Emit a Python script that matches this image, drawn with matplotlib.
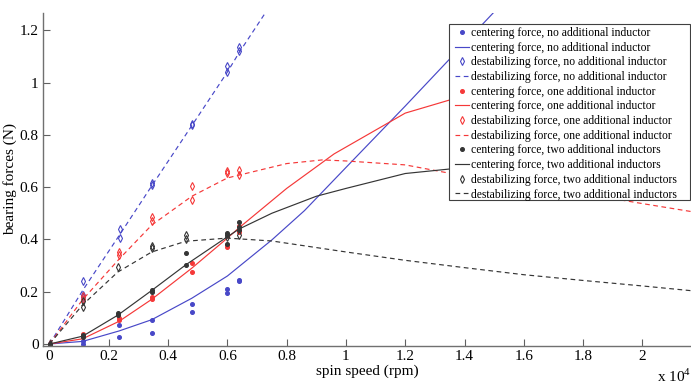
import matplotlib
matplotlib.use("Agg")
import matplotlib.pyplot as plt
from matplotlib.patches import Rectangle

plt.rcParams['font.family'] = ['Liberation Serif', 'DejaVu Serif']
plt.rcParams['mathtext.fontset'] = 'custom'
plt.rcParams['mathtext.rm'] = 'Liberation Serif'

# ---- measured data (spin speed in 1e4 rpm, force in N) ----
# no additional inductor
c0_x = [0, 0.112, 0.112, 0.235, 0.235, 0.345, 0.345, 0.48, 0.48, 0.6, 0.6, 0.64, 0.64]
c0_y = [0, 0.012, 0.0, 0.074, 0.027, 0.092, 0.042, 0.154, 0.122, 0.21, 0.196, 0.245, 0.24]
d0_x = [0, 0.112, 0.112, 0.112, 0.238, 0.238, 0.345, 0.345, 0.48, 0.48, 0.6, 0.6, 0.64, 0.64]
d0_y = [0, 0.24, 0.187, 0.178, 0.438, 0.404, 0.617, 0.607, 0.843, 0.836, 1.062, 1.04, 1.135, 1.12]
# one additional inductor
c1_x = [0, 0.112, 0.112, 0.235, 0.235, 0.345, 0.345, 0.48, 0.48, 0.6, 0.6, 0.64, 0.64, 0.64]
c1_y = [0, 0.04, 0.03, 0.1, 0.093, 0.18, 0.171, 0.31, 0.277, 0.378, 0.37, 0.452, 0.436, 0.427]
d1_x = [0, 0.112, 0.112, 0.235, 0.235, 0.345, 0.345, 0.48, 0.48, 0.6, 0.6, 0.64, 0.64]
d1_y = [0, 0.185, 0.172, 0.353, 0.34, 0.487, 0.47, 0.604, 0.552, 0.662, 0.654, 0.664, 0.648]
# two additional inductors
c2_x = [0, 0.112, 0.112, 0.23, 0.23, 0.345, 0.345, 0.46, 0.46, 0.6, 0.6, 0.6, 0.64, 0.64, 0.64]
c2_y = [0, 0.035, 0.027, 0.117, 0.11, 0.207, 0.199, 0.348, 0.301, 0.425, 0.417, 0.381, 0.466, 0.446, 0.436]
d2_x = [0, 0.112, 0.112, 0.23, 0.345, 0.345, 0.46, 0.46, 0.6, 0.64]
d2_y = [0, 0.165, 0.142, 0.294, 0.376, 0.368, 0.416, 0.402, 0.41, 0.416]

# ---- model curves ----
mc0_x = [0, 0.112, 0.235, 0.345, 0.48, 0.6, 0.75, 0.86, 1.0, 1.2, 1.4, 1.6]
mc0_y = [0, 0.01, 0.05, 0.093, 0.175, 0.26, 0.398, 0.51, 0.675, 0.91, 1.15, 1.39]
md0_x = [0, 0.112, 0.235, 0.345, 0.48, 0.6, 0.64, 0.8]
md0_y = [0, 0.205, 0.415, 0.605, 0.835, 1.04, 1.115, 1.39]
mc1_x = [0, 0.112, 0.235, 0.345, 0.48, 0.6, 0.64, 0.8, 0.96, 1.2, 1.4, 1.6, 1.8, 2.0, 2.2]
mc1_y = [0, 0.02, 0.087, 0.171, 0.29, 0.405, 0.445, 0.595, 0.727, 0.883, 0.95, 1.015, 1.075, 1.13, 1.185]
md1_x = [0, 0.112, 0.235, 0.345, 0.48, 0.6, 0.8, 0.92, 1.0, 1.2, 1.35, 1.6, 1.8, 2.0, 2.2]
md1_y = [0, 0.17, 0.325, 0.455, 0.565, 0.635, 0.69, 0.704, 0.70, 0.685, 0.653, 0.61, 0.575, 0.537, 0.5]
mc2_x = [0, 0.112, 0.23, 0.345, 0.46, 0.6, 0.64, 0.75, 0.9, 1.0, 1.2, 1.4, 1.6, 1.8, 2.0, 2.2]
mc2_y = [0, 0.03, 0.11, 0.205, 0.303, 0.41, 0.44, 0.50, 0.565, 0.595, 0.652, 0.675, 0.70, 0.72, 0.74, 0.76]
md2_x = [0, 0.112, 0.23, 0.345, 0.46, 0.6, 0.75, 1.0, 1.2, 1.4, 1.6, 1.8, 2.0, 2.2]
md2_y = [0, 0.15, 0.275, 0.352, 0.393, 0.405, 0.394, 0.352, 0.32, 0.292, 0.265, 0.243, 0.222, 0.2]

labels = [
    "centering force, no additional inductor",
    "centering force, no additional inductor",
    "destabilizing force, no additional inductor",
    "destabilizing force, no additional inductor",
    "centering force, one additional inductor",
    "centering force, one additional inductor",
    "destabilizing force, one additional inductor",
    "destabilizing force, one additional inductor",
    "centering force, two additional inductors",
    "centering force, two additional inductors",
    "destabilizing force, two additional inductors",
    "destabilizing force, two additional inductors",
]

xticks = [0, 0.2, 0.4, 0.6, 0.8, 1.0, 1.2, 1.4, 1.6, 1.8, 2.0]
xticklabels = ["0", "0.2", "0.4", "0.6", "0.8", "1", "1.2", "1.4", "1.6", "1.8", "2"]
yticks = [0, 0.2, 0.4, 0.6, 0.8, 1.0, 1.2]
yticklabels = ["0", "0.2", "0.4", "0.6", "0.8", "1", "1.2"]

blue = '#4848c8'
red = '#f53838'
black = '#353535'

W, H = 691, 384
fig = plt.figure(figsize=(6.91, 3.84), dpi=100)
ax = fig.add_axes([42.7 / W, (H - 345.7) / H, 1 - 42.7 / W, (345.7 - 12.7) / H])

dash = (0, (4, 3))
ms_dot = 2.6
ms_dia = 3.7
lw = 0.85

groups = [
    (c0_x, c0_y, mc0_x, mc0_y, d0_x, d0_y, md0_x, md0_y, blue),
    (c1_x, c1_y, mc1_x, mc1_y, d1_x, d1_y, md1_x, md1_y, red),
    (c2_x, c2_y, mc2_x, mc2_y, d2_x, d2_y, md2_x, md2_y, black),
]
i = 0
for cx, cy, mcx, mcy, dx, dy, mdx, mdy, col in groups:
    ax.plot(cx, cy, linestyle='none', marker='o', ms=ms_dot, color=col, mec=col, label=labels[i])
    ax.plot(mcx, mcy, '-', color=col, lw=lw, label=labels[i + 1])
    ax.plot(dx, dy, linestyle='none', marker='d', ms=ms_dia, mfc='none', mec=col, mew=0.8, label=labels[i + 2])
    ax.plot(mdx, mdy, color=col, lw=lw, linestyle=dash, label=labels[i + 3])
    i += 4

ax.set_xlim(-0.023, 2.164)
ax.set_ylim(-0.0065, 1.267)
ax.set_xticks(xticks)
ax.set_xticklabels(xticklabels)
ax.set_yticks(yticks)
ax.set_yticklabels(yticklabels)
ax.tick_params(direction='in', length=5, width=0.8, color='#606060', labelsize=11, pad=3)
for s in ['top', 'right']:
    ax.spines[s].set_visible(False)
for s in ['left', 'bottom']:
    ax.spines[s].set_color('#707070')
    ax.spines[s].set_linewidth(1.0)

ax.set_xlabel("spin speed (rpm)", fontsize=11, labelpad=1)
ax.set_ylabel("bearing forces (N)", fontsize=11, labelpad=2)

fig.text(657 / W, (H - 376) / H, "x 10$^{4}$", fontsize=11, ha='left', va='center')

# legend frame drawn manually (extra right padding as in the original)
frame = Rectangle((449 / W, 1 - 200 / H), (690 - 449) / W, (200 - 24) / H,
                  transform=fig.transFigure, facecolor='white', edgecolor='#404040',
                  linewidth=0.8, zorder=4, clip_on=False)
ax.add_patch(frame)

leg = ax.legend(loc='upper left', bbox_to_anchor=(455 / W, 1 - 27 / H),
                bbox_transform=fig.transFigure, borderaxespad=0, fontsize=8.4,
                handlelength=1.2, handletextpad=0.2, labelspacing=0.23,
                borderpad=0.0, frameon=False, numpoints=1)
leg.set_zorder(5)

fig.savefig("out.png", dpi=100)
